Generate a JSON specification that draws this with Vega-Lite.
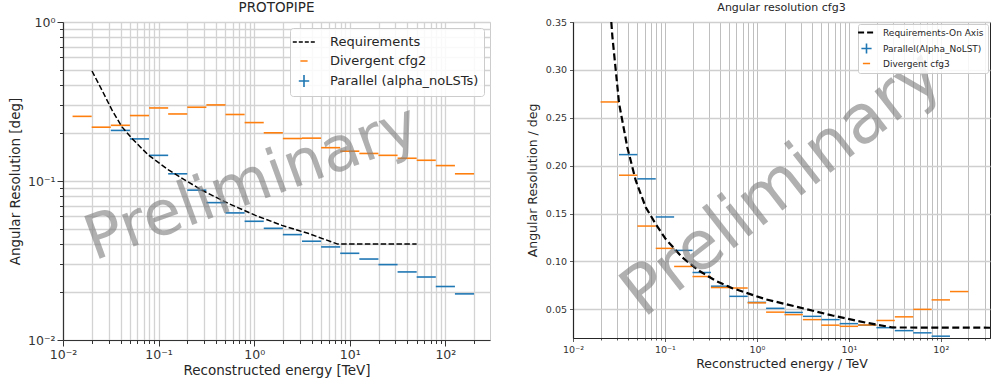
{
  "$schema": "https://vega.github.io/schema/vega-lite/v6.json",
  "padding": {"left": 7, "top": 0, "right": 0, "bottom": 0},
  "spacing": 34,
  "config": {
    "font": "DejaVu Sans",
    "view": {"stroke": null},
    "title": {"fontWeight": "normal"},
    "axis": {"labelFont": "DejaVu Sans", "titleFont": "DejaVu Sans", "titleFontWeight": "normal", "labelOverlap": false, "labelFlush": false}
  },
  "datasets": {
    "left_seg": [
      {"series": "Divergent cfg2", "lo": 0.01259, "hi": 0.01995, "val": 0.255},
      {"series": "Divergent cfg2", "lo": 0.01995, "hi": 0.03162, "val": 0.218},
      {"series": "Divergent cfg2", "lo": 0.03162, "hi": 0.05012, "val": 0.224},
      {"series": "Divergent cfg2", "lo": 0.05012, "hi": 0.07943, "val": 0.258},
      {"series": "Divergent cfg2", "lo": 0.07943, "hi": 0.1259, "val": 0.288},
      {"series": "Divergent cfg2", "lo": 0.1259, "hi": 0.1995, "val": 0.264},
      {"series": "Divergent cfg2", "lo": 0.1995, "hi": 0.3162, "val": 0.291},
      {"series": "Divergent cfg2", "lo": 0.3162, "hi": 0.5012, "val": 0.301},
      {"series": "Divergent cfg2", "lo": 0.5012, "hi": 0.7943, "val": 0.262},
      {"series": "Divergent cfg2", "lo": 0.7943, "hi": 1.259, "val": 0.233},
      {"series": "Divergent cfg2", "lo": 1.259, "hi": 1.995, "val": 0.201},
      {"series": "Divergent cfg2", "lo": 1.995, "hi": 3.162, "val": 0.185},
      {"series": "Divergent cfg2", "lo": 3.162, "hi": 5.012, "val": 0.186},
      {"series": "Divergent cfg2", "lo": 5.012, "hi": 7.943, "val": 0.162},
      {"series": "Divergent cfg2", "lo": 7.943, "hi": 12.59, "val": 0.154},
      {"series": "Divergent cfg2", "lo": 12.59, "hi": 19.95, "val": 0.149},
      {"series": "Divergent cfg2", "lo": 19.95, "hi": 31.62, "val": 0.145},
      {"series": "Divergent cfg2", "lo": 31.62, "hi": 50.12, "val": 0.139},
      {"series": "Divergent cfg2", "lo": 50.12, "hi": 79.43, "val": 0.135},
      {"series": "Divergent cfg2", "lo": 79.43, "hi": 125.9, "val": 0.125},
      {"series": "Divergent cfg2", "lo": 125.9, "hi": 199.5, "val": 0.111},
      {"series": "Parallel (alpha_noLSTs)", "lo": 0.03162, "hi": 0.05012, "val": 0.208},
      {"series": "Parallel (alpha_noLSTs)", "lo": 0.05012, "hi": 0.07943, "val": 0.184},
      {"series": "Parallel (alpha_noLSTs)", "lo": 0.07943, "hi": 0.1259, "val": 0.145},
      {"series": "Parallel (alpha_noLSTs)", "lo": 0.1259, "hi": 0.1995, "val": 0.111},
      {"series": "Parallel (alpha_noLSTs)", "lo": 0.1995, "hi": 0.3162, "val": 0.0876},
      {"series": "Parallel (alpha_noLSTs)", "lo": 0.3162, "hi": 0.5012, "val": 0.0731},
      {"series": "Parallel (alpha_noLSTs)", "lo": 0.5012, "hi": 0.7943, "val": 0.063},
      {"series": "Parallel (alpha_noLSTs)", "lo": 0.7943, "hi": 1.259, "val": 0.0558},
      {"series": "Parallel (alpha_noLSTs)", "lo": 1.259, "hi": 1.995, "val": 0.0504},
      {"series": "Parallel (alpha_noLSTs)", "lo": 1.995, "hi": 3.162, "val": 0.046},
      {"series": "Parallel (alpha_noLSTs)", "lo": 3.162, "hi": 5.012, "val": 0.0418},
      {"series": "Parallel (alpha_noLSTs)", "lo": 5.012, "hi": 7.943, "val": 0.0385},
      {"series": "Parallel (alpha_noLSTs)", "lo": 7.943, "hi": 12.59, "val": 0.0351},
      {"series": "Parallel (alpha_noLSTs)", "lo": 12.59, "hi": 19.95, "val": 0.0323},
      {"series": "Parallel (alpha_noLSTs)", "lo": 19.95, "hi": 31.62, "val": 0.0298},
      {"series": "Parallel (alpha_noLSTs)", "lo": 31.62, "hi": 50.12, "val": 0.0268},
      {"series": "Parallel (alpha_noLSTs)", "lo": 50.12, "hi": 79.43, "val": 0.0249},
      {"series": "Parallel (alpha_noLSTs)", "lo": 79.43, "hi": 125.9, "val": 0.0217},
      {"series": "Parallel (alpha_noLSTs)", "lo": 125.9, "hi": 199.5, "val": 0.0195}
    ],
    "left_req": [
      {"series": "Requirements", "e": 0.0201, "val": 0.492},
      {"series": "Requirements", "e": 0.0256, "val": 0.372},
      {"series": "Requirements", "e": 0.0326, "val": 0.279},
      {"series": "Requirements", "e": 0.0414, "val": 0.219},
      {"series": "Requirements", "e": 0.0527, "val": 0.185},
      {"series": "Requirements", "e": 0.0787, "val": 0.145},
      {"series": "Requirements", "e": 0.128, "val": 0.117},
      {"series": "Requirements", "e": 0.191, "val": 0.101},
      {"series": "Requirements", "e": 0.284, "val": 0.0875},
      {"series": "Requirements", "e": 0.541, "val": 0.0721},
      {"series": "Requirements", "e": 1.03, "val": 0.0608},
      {"series": "Requirements", "e": 1.95, "val": 0.0526},
      {"series": "Requirements", "e": 3.72, "val": 0.0467},
      {"series": "Requirements", "e": 6.52, "val": 0.0413},
      {"series": "Requirements", "e": 7.5, "val": 0.0401},
      {"series": "Requirements", "e": 50, "val": 0.0401}
    ],
    "right_seg": [
      {"series": "Parallel(Alpha_NoLST)", "lo": 0.03162, "hi": 0.05012, "val": 0.2115},
      {"series": "Parallel(Alpha_NoLST)", "lo": 0.05012, "hi": 0.07943, "val": 0.1862},
      {"series": "Parallel(Alpha_NoLST)", "lo": 0.07943, "hi": 0.1259, "val": 0.1464},
      {"series": "Parallel(Alpha_NoLST)", "lo": 0.1259, "hi": 0.1995, "val": 0.1115},
      {"series": "Parallel(Alpha_NoLST)", "lo": 0.1995, "hi": 0.3162, "val": 0.0884},
      {"series": "Parallel(Alpha_NoLST)", "lo": 0.3162, "hi": 0.5012, "val": 0.0741},
      {"series": "Parallel(Alpha_NoLST)", "lo": 0.5012, "hi": 0.7943, "val": 0.0635},
      {"series": "Parallel(Alpha_NoLST)", "lo": 0.7943, "hi": 1.259, "val": 0.0572},
      {"series": "Parallel(Alpha_NoLST)", "lo": 1.259, "hi": 1.995, "val": 0.051},
      {"series": "Parallel(Alpha_NoLST)", "lo": 1.995, "hi": 3.162, "val": 0.0467},
      {"series": "Parallel(Alpha_NoLST)", "lo": 3.162, "hi": 5.012, "val": 0.0426},
      {"series": "Parallel(Alpha_NoLST)", "lo": 5.012, "hi": 7.943, "val": 0.0392},
      {"series": "Parallel(Alpha_NoLST)", "lo": 7.943, "hi": 12.59, "val": 0.035},
      {"series": "Parallel(Alpha_NoLST)", "lo": 12.59, "hi": 19.95, "val": 0.0334},
      {"series": "Parallel(Alpha_NoLST)", "lo": 19.95, "hi": 31.62, "val": 0.0308},
      {"series": "Parallel(Alpha_NoLST)", "lo": 31.62, "hi": 50.12, "val": 0.0277},
      {"series": "Parallel(Alpha_NoLST)", "lo": 50.12, "hi": 79.43, "val": 0.0254},
      {"series": "Parallel(Alpha_NoLST)", "lo": 79.43, "hi": 125.9, "val": 0.0219},
      {"series": "Divergent cfg3", "lo": 0.01995, "hi": 0.03162, "val": 0.2665},
      {"series": "Divergent cfg3", "lo": 0.03162, "hi": 0.05012, "val": 0.19},
      {"series": "Divergent cfg3", "lo": 0.05012, "hi": 0.07943, "val": 0.1369},
      {"series": "Divergent cfg3", "lo": 0.07943, "hi": 0.1259, "val": 0.1136},
      {"series": "Divergent cfg3", "lo": 0.1259, "hi": 0.1995, "val": 0.0947},
      {"series": "Divergent cfg3", "lo": 0.1995, "hi": 0.3162, "val": 0.0842},
      {"series": "Divergent cfg3", "lo": 0.3162, "hi": 0.5012, "val": 0.0727},
      {"series": "Divergent cfg3", "lo": 0.5012, "hi": 0.7943, "val": 0.0722},
      {"series": "Divergent cfg3", "lo": 0.7943, "hi": 1.259, "val": 0.0567},
      {"series": "Divergent cfg3", "lo": 1.259, "hi": 1.995, "val": 0.047},
      {"series": "Divergent cfg3", "lo": 1.995, "hi": 3.162, "val": 0.0444},
      {"series": "Divergent cfg3", "lo": 3.162, "hi": 5.012, "val": 0.0392},
      {"series": "Divergent cfg3", "lo": 5.012, "hi": 7.943, "val": 0.0334},
      {"series": "Divergent cfg3", "lo": 7.943, "hi": 12.59, "val": 0.0322},
      {"series": "Divergent cfg3", "lo": 12.59, "hi": 19.95, "val": 0.0336},
      {"series": "Divergent cfg3", "lo": 19.95, "hi": 31.62, "val": 0.0383},
      {"series": "Divergent cfg3", "lo": 31.62, "hi": 50.12, "val": 0.0421},
      {"series": "Divergent cfg3", "lo": 50.12, "hi": 79.43, "val": 0.0499},
      {"series": "Divergent cfg3", "lo": 79.43, "hi": 125.9, "val": 0.0598},
      {"series": "Divergent cfg3", "lo": 125.9, "hi": 199.5, "val": 0.0685}
    ],
    "right_req": [
      {"series": "Requirements-On Axis", "e": 0.0261, "val": 0.35},
      {"series": "Requirements-On Axis", "e": 0.0268, "val": 0.335},
      {"series": "Requirements-On Axis", "e": 0.0317, "val": 0.265},
      {"series": "Requirements-On Axis", "e": 0.039, "val": 0.219},
      {"series": "Requirements-On Axis", "e": 0.0481, "val": 0.1845},
      {"series": "Requirements-On Axis", "e": 0.0618, "val": 0.1565},
      {"series": "Requirements-On Axis", "e": 0.0794, "val": 0.139},
      {"series": "Requirements-On Axis", "e": 0.102, "val": 0.1233},
      {"series": "Requirements-On Axis", "e": 0.1546, "val": 0.1041},
      {"series": "Requirements-On Axis", "e": 0.235, "val": 0.0902},
      {"series": "Requirements-On Axis", "e": 0.357, "val": 0.0797},
      {"series": "Requirements-On Axis", "e": 0.541, "val": 0.072},
      {"series": "Requirements-On Axis", "e": 1.25, "val": 0.0604},
      {"series": "Requirements-On Axis", "e": 2.88, "val": 0.052},
      {"series": "Requirements-On Axis", "e": 6.64, "val": 0.0435},
      {"series": "Requirements-On Axis", "e": 15.3, "val": 0.036},
      {"series": "Requirements-On Axis", "e": 29.8, "val": 0.031},
      {"series": "Requirements-On Axis", "e": 400, "val": 0.0307}
    ]
  },
  "resolve": {"scale": {"color": "independent", "x": "independent", "y": "independent"}, "legend": {"color": "independent"}},
  "hconcat": [
    {
      "width": 427,
      "height": 318,
      "view": {"stroke": "#cccccc", "strokeWidth": 1},
      "title": {"text": "PROTOPIPE", "fontSize": 13.5, "fontWeight": "normal", "font": "DejaVu Sans", "color": "#262626", "anchor": "middle", "frame": "group", "offset": 2},
      "layer": [
        {
          "data": {"name": "left_seg"},
          "mark": {"type": "rule", "strokeWidth": 1.6},
          "encoding": {
            "x": {
              "field": "lo", "type": "quantitative",
              "scale": {"type": "log", "domain": [0.01, 293], "nice": false},
              "axis": {
                "title": "Reconstructed energy [TeV]",
                "values": [0.01,0.02,0.03,0.04,0.05,0.06,0.07,0.08,0.09,0.1,0.2,0.3,0.4,0.5,0.6,0.7,0.8,0.9,1,2,3,4,5,6,7,8,9,10,20,30,40,50,60,70,80,90,100,200],
                "labelExpr": "datum.value === 0.01 ? '10⁻²' : datum.value === 0.1 ? '10⁻¹' : datum.value === 1 ? '10⁰' : datum.value === 10 ? '10¹' : datum.value === 100 ? '10²' : ''",
                "labelFontSize": 12.5, "labelColor": "#333333", "labelPadding": 2,
                "titleFontSize": 13.5, "titleColor": "#262626", "titlePadding": 3,
                "grid": true, "gridColor": "#d3d3d3", "gridWidth": 1.3,
                "domainColor": "#333333", "domainWidth": 1.2,
                "tickColor": "#333333", "tickWidth": 1,
                "tickSize": {"condition": {"test": "indexof([0.01,0.1,1,10,100], datum.value) >= 0", "value": 6}, "value": 3.5}
              }
            },
            "x2": {"field": "hi"},
            "y": {
              "field": "val", "type": "quantitative",
              "scale": {"type": "log", "domain": [0.01, 1], "nice": false},
              "axis": {
                "title": "Angular Resolution [deg]",
                "values": [0.01,0.02,0.03,0.04,0.05,0.06,0.07,0.08,0.09,0.1,0.2,0.3,0.4,0.5,0.6,0.7,0.8,0.9,1],
                "labelExpr": "datum.value === 0.01 ? '10⁻²' : datum.value === 0.1 ? '10⁻¹' : datum.value === 1 ? '10⁰' : ''",
                "labelFontSize": 12.5, "labelColor": "#333333", "labelPadding": 2,
                "titleFontSize": 13.5, "titleColor": "#262626", "titlePadding": 5,
                "grid": true, "gridColor": "#d3d3d3", "gridWidth": 1.3,
                "domainColor": "#333333", "domainWidth": 1.2,
                "tickColor": "#333333", "tickWidth": 1,
                "tickSize": {"condition": {"test": "indexof([0.01,0.1,1], datum.value) >= 0", "value": 6}, "value": 3.5}
              }
            },
            "color": {
              "field": "series", "type": "nominal",
              "scale": {"domain": ["Requirements", "Divergent cfg2", "Parallel (alpha_noLSTs)"], "range": ["#000000", "#ff7f0e", "#1f77b4"]},
              "legend": {
                "title": null, "orient": "top-right", "offset": 6,
                "fillColor": "rgba(255,255,255,0.85)", "strokeColor": "#cccccc", "cornerRadius": 3, "padding": 5,
                "labelFontSize": 13, "labelFont": "DejaVu Sans", "labelColor": "#262626",
                "symbolSize": 256, "symbolStrokeWidth": 1.6, "rowPadding": 3, "labelOffset": 17,
                "encode": {
                  "symbols": {
                    "update": {
                      "shape": {"signal": "datum.value === 'Requirements' ? 'M-1.4,0H1.4' : datum.value === 'Divergent cfg2' ? 'M-0.45,0H0.45' : 'M-0.65,0H0.65M0,-0.75V0.75'"},
                      "strokeDash": {"signal": "datum.value === 'Requirements' ? [4, 2] : [1, 0]"}
                    }
                  }
                }
              }
            }
          }
        },
        {
          "data": {"name": "left_req"},
          "mark": {"type": "line", "strokeWidth": 1.5, "strokeDash": [5.5, 2.4], "clip": true},
          "encoding": {
            "x": {"field": "e", "type": "quantitative"},
            "y": {"field": "val", "type": "quantitative"},
            "color": {"field": "series", "type": "nominal"}
          }
        },
        {
          "data": {"values": [{"label": "Preliminary"}]},
          "mark": {"type": "text", "font": "DejaVu Sans", "fontSize": 62, "angle": 340, "color": "#808080", "opacity": 0.62, "align": "center", "baseline": "middle"},
          "encoding": {
            "x": {"datum": 0.95, "type": "quantitative"},
            "y": {"datum": 0.097, "type": "quantitative"},
            "text": {"field": "label"}
          }
        }
      ]
    },
    {
      "width": 417,
      "height": 316,
      "view": {"stroke": "#262626", "strokeWidth": 1},
      "title": {"text": "Angular resolution cfg3", "fontSize": 11, "fontWeight": "normal", "font": "DejaVu Sans", "color": "#262626", "anchor": "middle", "frame": "group", "offset": 4},
      "layer": [
        {
          "data": {"name": "right_seg"},
          "mark": {"type": "rule", "strokeWidth": 1.5},
          "encoding": {
            "x": {
              "field": "lo", "type": "quantitative",
              "scale": {"type": "log", "domain": [0.01, 343], "nice": false},
              "axis": {
                "title": "Reconstructed energy / TeV",
                "values": [0.01,0.02,0.03,0.04,0.05,0.06,0.07,0.08,0.09,0.1,0.2,0.3,0.4,0.5,0.6,0.7,0.8,0.9,1,2,3,4,5,6,7,8,9,10,20,30,40,50,60,70,80,90,100,200,300],
                "labelExpr": "datum.value === 0.01 ? '10⁻²' : datum.value === 0.1 ? '10⁻¹' : datum.value === 1 ? '10⁰' : datum.value === 10 ? '10¹' : datum.value === 100 ? '10²' : ''",
                "labelFontSize": 9.5, "labelColor": "#333333", "labelPadding": 3,
                "titleFontSize": 12.5, "titleColor": "#262626", "titlePadding": 3,
                "grid": true, "gridColor": "#b8b8b8", "gridWidth": 0.9,
                "domainColor": "#262626", "domainWidth": 1.2,
                "tickColor": "#333333", "tickWidth": 0.8,
                "tickSize": {"condition": {"test": "indexof([0.01,0.1,1,10,100], datum.value) >= 0", "value": 3.5}, "value": 2}
              }
            },
            "x2": {"field": "hi"},
            "y": {
              "field": "val", "type": "quantitative",
              "scale": {"type": "linear", "domain": [0.02, 0.35], "nice": false, "zero": false},
              "axis": {
                "title": "Angular Resolution / deg",
                "values": [0.05, 0.1, 0.15, 0.2, 0.25, 0.3, 0.35],
                "format": ".2f",
                "labelFontSize": 9.5, "labelColor": "#333333", "labelPadding": 3,
                "titleFontSize": 12.5, "titleColor": "#262626", "titlePadding": 6,
                "grid": true, "gridColor": "#cfcfcf", "gridWidth": 1.5,
                "domainColor": "#262626", "domainWidth": 1.2,
                "tickColor": "#333333", "tickSize": 3.5, "tickWidth": 0.8
              }
            },
            "color": {
              "field": "series", "type": "nominal",
              "scale": {"domain": ["Requirements-On Axis", "Parallel(Alpha_NoLST)", "Divergent cfg3"], "range": ["#000000", "#1f77b4", "#ff7f0e"]},
              "legend": {
                "title": null, "orient": "top-right", "offset": 2,
                "fillColor": "rgba(255,255,255,0.85)", "strokeColor": "#cccccc", "cornerRadius": 2, "padding": 4,
                "labelFontSize": 9, "labelFont": "DejaVu Sans", "labelColor": "#262626",
                "symbolSize": 144, "symbolStrokeWidth": 1.6, "rowPadding": 2, "labelOffset": 12,
                "encode": {
                  "symbols": {
                    "update": {
                      "shape": {"signal": "datum.value === 'Requirements-On Axis' ? 'M-1.4,0H1.4' : datum.value === 'Divergent cfg3' ? 'M-0.6,0H0.6' : 'M-0.85,0H0.85M0,-0.85V0.85'"},
                      "strokeDash": {"signal": "datum.value === 'Requirements-On Axis' ? [6, 3] : [1, 0]"},
                      "strokeWidth": {"signal": "datum.value === 'Requirements-On Axis' ? 2.2 : 1.6"}
                    }
                  }
                }
              }
            }
          }
        },
        {
          "data": {"name": "right_req"},
          "mark": {"type": "line", "strokeWidth": 2.2, "strokeDash": [7, 3.5], "clip": true},
          "encoding": {
            "x": {"field": "e", "type": "quantitative"},
            "y": {"field": "val", "type": "quantitative"},
            "color": {"field": "series", "type": "nominal"}
          }
        },
        {
          "data": {"values": [{"label": "Preliminary"}]},
          "mark": {"type": "text", "font": "DejaVu Sans", "fontSize": 68, "angle": 322, "color": "#808080", "opacity": 0.62, "align": "center", "baseline": "middle"},
          "encoding": {
            "x": {"datum": 1.9, "type": "quantitative"},
            "y": {"datum": 0.18, "type": "quantitative"},
            "text": {"field": "label"}
          }
        }
      ]
    }
  ]
}
